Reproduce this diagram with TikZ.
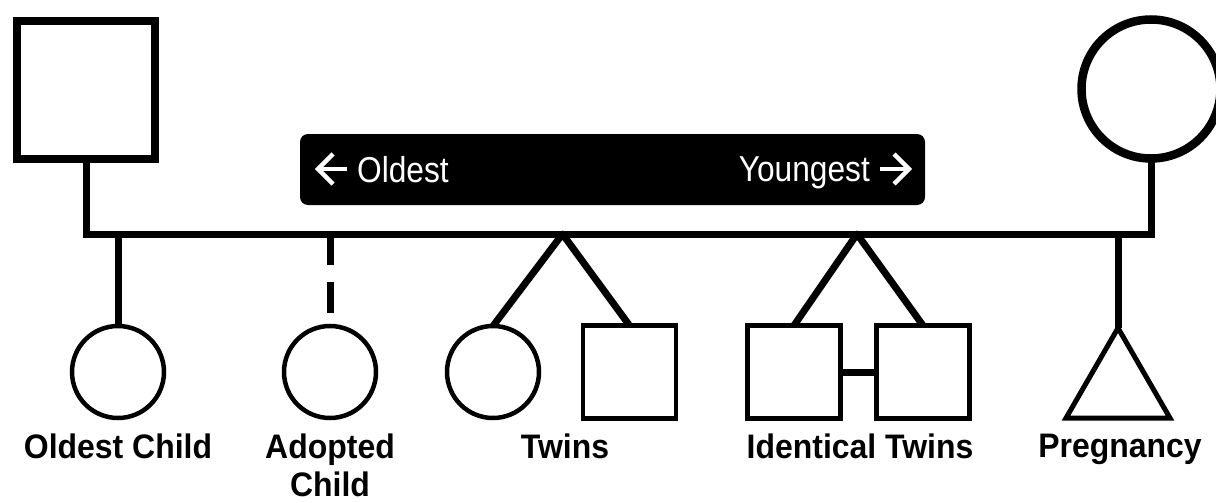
\documentclass[tikz,border=0pt]{standalone}
\usepackage{fontspec}
\setmainfont{Liberation Sans}
\newfontfamily\bannerfont[FakeStretch=0.88]{Liberation Sans}
\newfontfamily\labfont[FakeStretch=0.94]{Liberation Sans}
\usetikzlibrary{shapes.geometric}
\begin{document}
\begin{tikzpicture}[x=1pt,y=-1pt,
  parent/.style={draw, line width=8.5pt, inner sep=0pt, outer sep=0pt},
  kid/.style={draw, line width=4.5pt, inner sep=0pt, outer sep=0pt},
  kidsq/.style={kid, rectangle, minimum size=93pt},
  kidci/.style={kid, circle, minimum size=92pt},
  link/.style={line width=7pt},
  lab/.style={font=\labfont\bfseries\fontsize{34}{38}\selectfont, inner sep=0pt, anchor=north, align=center},
  btext/.style={font=\bannerfont\fontsize{36}{40}\selectfont, text=white, inner sep=0pt},
  barrow/.style={draw=white, line width=4.5pt, line join=miter, line cap=butt}
]
\useasboundingbox (0,0) rectangle (1216,503);
\clip (0,0) rectangle (1216,503);

% parents
\node[parent, rectangle, minimum size=138pt] (father) at (86,90) {};
\node[parent, circle, minimum size=139pt] (mother) at (1151,89) {};
\coordinate (bar) at (0,234);
\draw[link, line join=miter] (father.south) |- (bar -| mother.south) -- (mother.south);

% children
\node[kidci] (c1) at (118,372) {};
\node[kidci] (c2) at (330,372) {};
\node[kidci] (t1) at (493,372) {};
\node[kidsq] (t2) at (629.5,372) {};
\node[kidsq] (i1) at (794,372) {};
\node[kidsq] (i2) at (923,372) {};
\node[kid, regular polygon, regular polygon sides=3, minimum size=120pt, line width=5pt] (preg) at (1118,388) {};

% connectors
\draw[link] (c1.north |- bar) -- (c1.north);
\draw[link, dash pattern=on 31pt off 17pt on 31pt off 30pt] (c2.north |- bar) -- (c2.north);
\coordinate (ta) at (562.5,234);
\draw[link, line join=round] (t1.north) -- (ta) -- (t2.north);
\coordinate (ia) at (857,234);
\draw[link, line join=round] (i1.north) -- (ia) -- (i2.north);
\draw[link] (i1.east) -- (i2.west);
\draw[link] (preg.corner 1 |- bar) -- (preg.corner 1);

% banner
\node[fill=black, rounded corners=8pt, minimum width=625pt, minimum height=71pt, inner sep=0pt] (banner) at (612.5,169.5) {};
\node[btext, anchor=base west] (old) at (357,182) {Oldest};
\node[btext, anchor=base east] (young) at (870,181) {Youngest};
\draw[barrow] (347,169) -- (318,169);
\draw[barrow] (333,154) -- (318,169) -- (333,184);
\draw[barrow] (880,169) -- (909,169);
\draw[barrow] (894,154) -- (909,169) -- (894,184);

% labels
\node[lab] (l1) at (118,434) {Oldest Child};
\node[lab] (l2) at (330,434) {Adopted\\Child};
\node[lab] (l3) at (565,434) {Twins};
\node[lab] (l4) at (860,434) {Identical Twins};
\node[lab] (l5) at (1120,434) {Pregnancy};
\end{tikzpicture}
\end{document}
